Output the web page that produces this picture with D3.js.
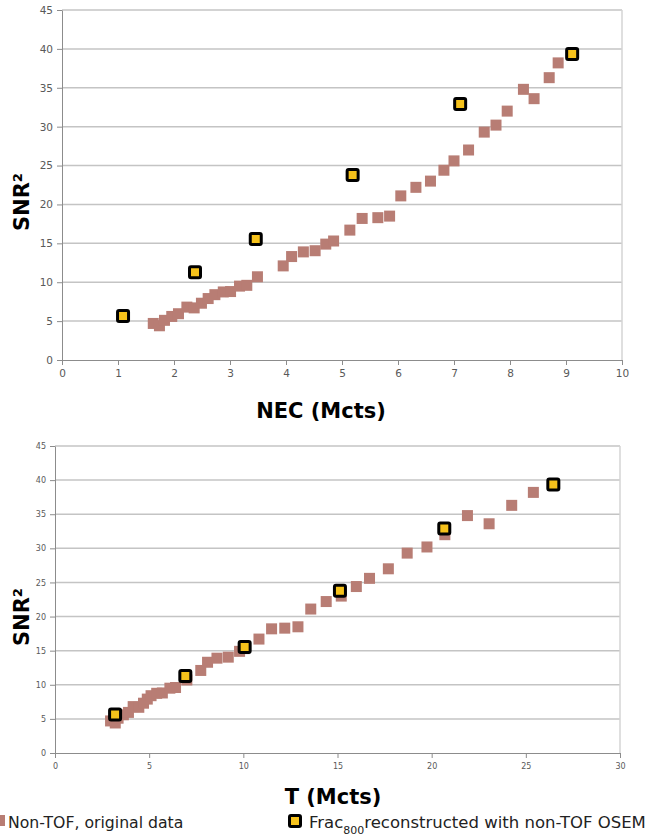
<!DOCTYPE html>
<html>
<head>
<meta charset="utf-8">
<script src="https://cdn.jsdelivr.net/npm/d3@7"></script>
<style>
  body { margin: 0; background: #fff; }
  svg { display: block; font-family: "DejaVu Sans", Verdana, sans-serif; }
  .tick text { fill: #595959; }
  .tick line { stroke: #8c8c8c; }
  .domain { stroke: #8c8c8c; }
</style>
</head>
<body>
<div id="chart"></div>
<script>
// non-TOF original data
const necNonTof = [1.63, 1.74, 1.83, 1.96, 2.08, 2.23, 2.36, 2.49, 2.61, 2.73, 2.88, 3.01, 3.17, 3.30, 3.49,
  3.95, 4.10, 4.31, 4.52, 4.71, 4.85, 5.14, 5.36, 5.64, 5.85, 6.05, 6.32, 6.58, 6.82, 7.00,
  7.26, 7.54, 7.75, 7.95, 8.24, 8.43, 8.70, 8.86];
const tNonTof = [2.95, 3.2, 3.35, 3.63, 3.9, 4.15, 4.45, 4.7, 4.9, 5.1, 5.4, 5.7, 6.1, 6.4, 7.0,
  7.74, 8.1, 8.6, 9.2, 9.8, 10.05, 10.83, 11.5, 12.2, 12.9, 13.58, 14.4, 15.2, 16.0, 16.7,
  17.7, 18.7, 19.75, 20.7, 21.9, 23.05, 24.25, 25.4];
const snrNonTof = [4.7, 4.4, 5.1, 5.6, 5.95, 6.8, 6.7, 7.3, 7.9, 8.4, 8.75, 8.8, 9.5, 9.6, 10.7,
  12.1, 13.3, 13.9, 14.05, 14.9, 15.3, 16.7, 18.2, 18.3, 18.5, 21.1, 22.2, 23.0, 24.4, 25.6,
  27.0, 29.3, 30.2, 32.0, 34.8, 33.6, 36.3, 38.2];

// Frac800 reconstructed with non-TOF OSEM
const necFrac = [1.09, 2.375, 3.46, 5.19, 7.11, 9.11];
const tFrac = [3.19, 6.92, 10.07, 15.13, 20.67, 26.46];
const snrFrac = [5.65, 11.27, 15.55, 23.8, 32.9, 39.35];

const yTicks = [0, 5, 10, 15, 20, 25, 30, 35, 40, 45];
const necTicks = [0, 1, 2, 3, 4, 5, 6, 7, 8, 9, 10];
const tTicks = [0, 5, 10, 15, 20, 25, 30];

const W = 645, H = 838;
const brown = "#b87d74", yellow = "#f6c21b";

const svg = d3.select("#chart").append("svg").attr("width", W).attr("height", H);

function panel(p) {
  const x = d3.scaleLinear().domain([0, p.xMax]).range([p.left, p.right]);
  const y = d3.scaleLinear().domain([0, 45]).range([p.bottom, p.top]);
  const g = svg.append("g");

  // grid
  g.append("g").selectAll("line").data(yTicks.slice(1)).join("line")
    .attr("x1", p.left).attr("x2", p.right)
    .attr("y1", d => y(d)).attr("y2", d => y(d))
    .attr("stroke", "#c4c4c4").attr("stroke-width", 1.5);
  g.append("line").attr("x1", p.right).attr("x2", p.right)
    .attr("y1", p.top).attr("y2", p.bottom)
    .attr("stroke", "#d4d4d4").attr("stroke-width", 1.5);

  g.append("g").attr("transform", "translate(" + p.left + ",0)")
    .call(d3.axisLeft(y).tickValues(yTicks).tickSize(5).tickSizeOuter(0).tickPadding(4))
    .call(a => a.selectAll("text").attr("font-size", p.tickFont).attr("font-family", "DejaVu Sans"));
  g.append("g").attr("transform", "translate(0," + p.bottom + ")")
    .call(d3.axisBottom(x).tickValues(p.xTicks).tickSize(5).tickSizeOuter(0).tickPadding(p.xPad))
    .call(a => a.selectAll("text").attr("font-size", p.tickFont).attr("font-family", "DejaVu Sans"));

  // series
  g.append("g").selectAll("rect").data(p.xs).join("rect")
    .attr("x", (d, i) => x(d) - 5.5).attr("y", (d, i) => y(snrNonTof[i]) - 5.5)
    .attr("width", 11).attr("height", 11).attr("fill", brown);
  g.append("g").selectAll("rect").data(p.xf).join("rect")
    .attr("x", (d, i) => x(d) - 5.5).attr("y", (d, i) => y(snrFrac[i]) - 5.5)
    .attr("width", 11).attr("height", 11).attr("fill", yellow)
    .attr("stroke", "#000").attr("stroke-width", 3).attr("rx", 1.5);

  // titles
  g.append("text").attr("transform", "translate(" + p.yTitleX + "," + p.yTitleY + ") rotate(-90)")
    .attr("text-anchor", "middle").attr("font-weight", "bold").attr("font-size", 21)
    .text("SNR²");
  g.append("text").attr("x", p.xTitleX).attr("y", p.xTitleY)
    .attr("text-anchor", "middle").attr("font-weight", "bold").attr("font-size", 21)
    .text(p.xTitle);
}

panel({ left: 62, right: 622, top: 10, bottom: 360, xMax: 10, xTicks: necTicks,
  xs: necNonTof, xf: necFrac, tickFont: 10.5, xPad: 5,
  yTitleX: 29, yTitleY: 202, xTitleX: 321, xTitleY: 418, xTitle: "NEC (Mcts)" });
panel({ left: 55, right: 620, top: 446, bottom: 753, xMax: 30, xTicks: tTicks,
  xs: tNonTof, xf: tFrac, tickFont: 8, xPad: 5,
  yTitleX: 29, yTitleY: 617, xTitleX: 333, xTitleY: 804, xTitle: "T (Mcts)" });

// legend
const leg = svg.append("g").attr("fill", "#222");
leg.append("rect").attr("x", -5).attr("y", 815).attr("width", 10).attr("height", 11).attr("fill", brown);
leg.append("text").attr("x", 8).attr("y", 828).attr("font-size", 15.7).text("Non-TOF, original data");
leg.append("rect").attr("x", 289.5).attr("y", 815.5).attr("width", 11).attr("height", 11)
  .attr("fill", yellow).attr("stroke", "#000").attr("stroke-width", 3).attr("rx", 1.5);
const t2 = leg.append("text").attr("x", 309).attr("y", 828).attr("font-size", 16.5);
t2.append("tspan").text("Frac");
t2.append("tspan").attr("font-size", 11).attr("dy", 6).text("800");
t2.append("tspan").attr("dy", -6).text("reconstructed with non-TOF OSEM");
</script>
</body>
</html>
